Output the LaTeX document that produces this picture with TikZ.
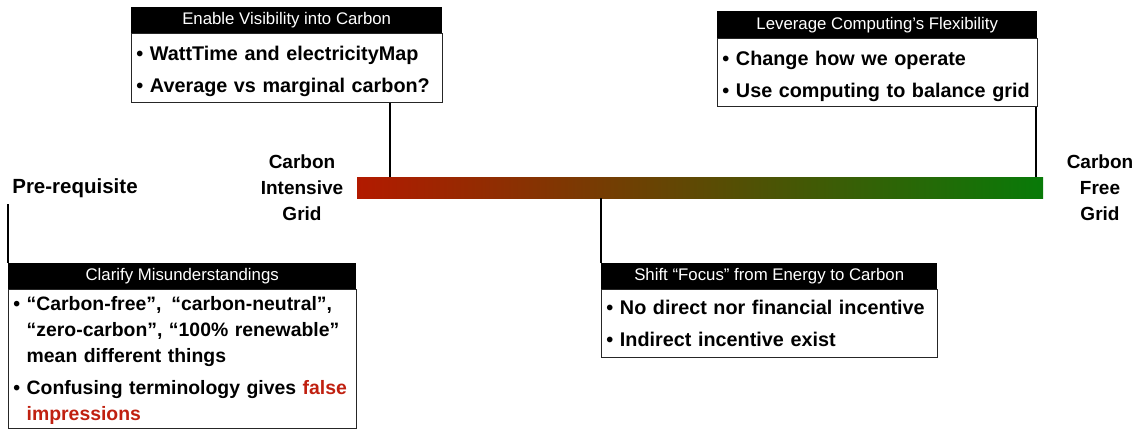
\documentclass[tikz,border=0pt]{standalone}
\usepackage{fontspec}
\setmainfont{Liberation Sans}
\definecolor{barred}{RGB}{178,26,0}
\definecolor{bargreen}{RGB}{8,122,8}
\definecolor{falsered}{RGB}{192,32,16}
\newcommand{\bul}{\textbullet\ }
\newcommand{\ind}{\phantom{\textbullet\ }}
\newcommand{\tp}[1]{\rule{0pt}{#1}}
\begin{document}
\begin{tikzpicture}[x=1pt,y=-1pt,
  head/.style={fill=black, text=white, font=\fontsize{16.8}{18}\selectfont, inner sep=0pt, anchor=north west, minimum height=26pt},
  body/.style={draw=black!85, line width=0.9pt, anchor=north west, align=left, inner xsep=5pt, inner ysep=0pt, font=\bfseries\fontsize{19.8}{26}\selectfont},
  big/.style={font=\bfseries\fontsize{19}{26}\selectfont, align=center, inner sep=0pt},
  conn/.style={line width=1.3pt, black}]
\useasboundingbox (0,0) rectangle (1143,429);

% bar
\node[draw=none, inner sep=0pt, minimum width=686pt, minimum height=21pt, left color=barred, right color=bargreen] (bar) at (700,187.5) {};

% labels
\node[big] (cig) at (302,188) {Carbon\\Intensive\\Grid};
\node[big] (cfg) at (1100,188) {Carbon\\Free\\Grid};
\node[font=\bfseries\fontsize{20.5}{24}\selectfont, inner sep=0pt] (pre) at (75,188) {Pre-requisite};

% box 1
\node[head, minimum width=311pt] (h1) at (131,7) {Enable Visibility into Carbon};
\node[body, text width=301pt, minimum height=69pt] (b1) at (131,33) {\tp{22pt}\bul WattTime and electricityMap\\[6pt]\bul Average vs marginal carbon?};

% box 2
\node[head, minimum width=320pt, minimum height=27pt] (h2) at (717,11) {Leverage Computing’s Flexibility};
\node[body, text width=310pt, minimum height=68pt] (b2) at (717,38) {\tp{22pt}\bul Change how we operate\\[6pt]\bul Use computing to balance grid};

% box 3
\node[head, minimum width=336pt] (h3) at (601,263) {Shift “Focus” from Energy to Carbon};
\node[body, text width=326pt, minimum height=68pt] (b3) at (601,289) {\bul No direct nor financial incentive\\[6pt]\bul Indirect incentive exist};

% box 4
\node[head, minimum width=348pt] (h4) at (8,263) {Clarify Misunderstandings};
\node[body, text width=338pt, minimum height=139pt, font=\bfseries\fontsize{19.4}{26}\selectfont] (b4) at (8,289) {\tp{18pt}\mbox{\bul “Carbon-free”,\hspace{10pt}“carbon-neutral”,}\\\mbox{\ind “zero-carbon”, “100\% renewable”}\\\mbox{\ind mean different things}\\[6pt]\mbox{\bul Confusing terminology gives \textcolor{falsered}{false}}\\\mbox{\ind\textcolor{falsered}{impressions}}};

% connectors
\coordinate (c1) at (390,177);
\draw[conn] (b1.south -| c1) -- (c1);
\draw[conn] ([xshift=-2pt]b2.south east) -- ([xshift=-2pt]b2.south east |- bar.north);
\draw[conn] (bar.south -| h3.north west) -- (h3.north west);
\coordinate (p1) at (8,204);
\draw[conn] (p1) -- (h4.north west);
\end{tikzpicture}
\end{document}
